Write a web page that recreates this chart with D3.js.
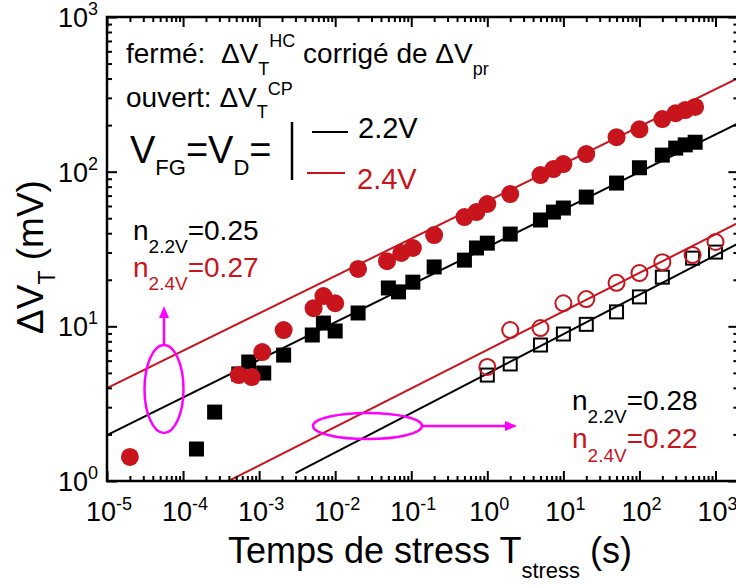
<!DOCTYPE html>
<html><head><meta charset="utf-8">
<script src="https://cdn.jsdelivr.net/npm/d3@7"></script>
<style>
html,body{margin:0;padding:0;background:#fff;}
svg{display:block;font-family:"Liberation Sans",Arial,Helvetica,sans-serif;}
svg text{white-space:pre;}
</style></head>
<body>
<svg id="chart" width="736" height="588"></svg>
<script>
// ---- data ----
const tClosedRed = [2e-5, 5.4e-4, 8e-4, 1.1e-3, 2.1e-3, 5.2e-3, 7e-3, 1e-2, 2e-2, 0.048, 0.074, 0.105, 0.2, 0.5, 0.72, 1, 2, 5, 7.4, 10, 20, 50, 100, 200, 300, 400, 540];
const vClosedRed = [1.43, 4.84, 4.70, 6.82, 9.46, 13.1, 15.7, 14.1, 23.5, 26.4, 29.8, 32.1, 38.9, 50.9, 54.8, 61.8, 71.7, 95.0, 104, 112, 130, 167, 188, 219, 239, 250, 262];
const tClosedBlack = [1.5e-4, 2.6e-4, 5.4e-4, 7.3e-4, 1.15e-3, 2.1e-3, 5e-3, 7e-3, 1e-2, 2e-2, 0.05, 0.068, 0.105, 0.2, 0.5, 0.72, 1, 2, 5, 7.4, 10, 20, 50, 100, 200, 300, 400, 540];
const vClosedBlack = [1.61, 2.79, 4.92, 5.88, 4.99, 6.52, 8.79, 10.5, 9.33, 12.2, 17.7, 16.7, 19.3, 24.2, 26.8, 32.1, 34.5, 39.5, 48.7, 54.8, 58.2, 68.5, 84.4, 106, 128, 142, 149, 155];
const tOpen = [1, 2, 5, 10, 20, 50, 100, 200, 500, 1000];
const vOpenRed = [5.46, 9.46, 9.75, 14.1, 15.0, 19.1, 22.1, 26.0, 28.9, 35.1];
const vOpenBlack = [4.84, 5.71, 7.57, 8.92, 10.3, 12.4, 15.5, 20.8, 27.6, 30.2];
// power-law fits V = A * t^n : [closed 2.2V, closed 2.4V, open 2.2V, open 2.4V]
const fitA = [32.5, 64.3, 4.95, 7.04];
const fitN = [0.243, 0.2415, 0.255, 0.249];
const fitStart = [1e-5, 1e-5, 3e-3, 1e-5];
const fitEnd = 2000;
const xTickExps = [-5, -4, -3, -2, -1, 0, 1, 2, 3];
const yTickExps = [0, 1, 2, 3];

const RED = "#c8141c", BLACK = "#000", MAG = "#ff00ff";
const svg = d3.select("#chart");
const L = 107, R = 738.4, T = 17, B = 481;
const x = d3.scaleLog().domain([1e-5, 2000]).range([L, R]);
const y = d3.scaleLog().domain([1, 1000]).range([B, T]);

svg.append("defs").append("clipPath").attr("id", "clip")
  .append("rect").attr("x", L).attr("y", T).attr("width", R - L).attr("height", B - T);

function rich(sel, px, py, parts, size, color, anchor) {
  const t = sel.append("text").attr("x", px).attr("y", py).attr("font-size", size)
    .attr("fill", color).attr("text-anchor", anchor || "start").attr("xml:space", "preserve");
  let cur = 0;
  parts.forEach(p => {
    const ts = t.append("tspan").text(p.t);
    const off = p.dy || 0;
    ts.attr("dy", off - cur); cur = off;
    if (p.size) ts.attr("font-size", p.size);
  });
  return t;
}

// ---- fit lines ----
const gl = svg.append("g").attr("clip-path", "url(#clip)");
[BLACK, RED, BLACK, RED].forEach((c, i) => {
  const ts = [fitStart[i], fitEnd];
  gl.append("path")
    .attr("d", d3.line().x(d => x(d)).y(d => y(fitA[i] * Math.pow(d, fitN[i])))(ts))
    .attr("stroke", c).attr("stroke-width", 2).attr("fill", "none");
});

// ---- markers ----
const gm = svg.append("g");
const sqB = 15, sqO = 13;
gm.selectAll(".sb").data(tClosedBlack.map((t, i) => [t, vClosedBlack[i]])).join("rect")
  .attr("x", d => x(d[0]) - sqB / 2).attr("y", d => y(d[1]) - sqB / 2)
  .attr("width", sqB).attr("height", sqB).attr("fill", BLACK);
gm.selectAll(".cr").data(tClosedRed.map((t, i) => [t, vClosedRed[i]])).join("circle")
  .attr("cx", d => x(d[0])).attr("cy", d => y(d[1])).attr("r", 9).attr("fill", RED);
gm.selectAll(".ob").data(tOpen.map((t, i) => [t, vOpenBlack[i]])).join("rect")
  .attr("x", d => x(d[0]) - sqO / 2).attr("y", d => y(d[1]) - sqO / 2)
  .attr("width", sqO).attr("height", sqO).attr("fill", "none").attr("stroke", BLACK).attr("stroke-width", 2);
gm.selectAll(".or").data(tOpen.map((t, i) => [t, vOpenRed[i]])).join("circle")
  .attr("cx", d => x(d[0])).attr("cy", d => y(d[1])).attr("r", 8)
  .attr("fill", "none").attr("stroke", RED).attr("stroke-width", 2);

// ---- axes ----
function minorVals(domain) {
  const out = [];
  const lo = Math.floor(Math.log10(domain[0])), hi = Math.ceil(Math.log10(domain[1]));
  for (let e = lo; e < hi; e++) for (let k = 2; k <= 9; k++) {
    const v = k * Math.pow(10, e);
    if (v >= domain[0] && v <= domain[1]) out.push(v);
  }
  return out;
}
const xMajor = xTickExps.map(e => Math.pow(10, e));
const yMajor = yTickExps.map(e => Math.pow(10, e));
const xMinor = minorVals(x.domain()), yMinor = minorVals(y.domain());

function drawAxis(axisFn, scale, tf, major, minor) {
  const g = svg.append("g").attr("transform", tf);
  g.call(axisFn(scale).tickValues(minor).tickSize(-5).tickFormat(""));
  g.append("g").call(axisFn(scale).tickValues(major).tickSize(-10).tickFormat(""));
  g.selectAll(".domain").remove();
  g.selectAll("line").attr("stroke", "#000").attr("stroke-width", 2);
  return g;
}
drawAxis(d3.axisBottom, x, `translate(0,${B})`, xMajor, xMinor);
drawAxis(d3.axisTop, x, `translate(0,${T})`, xMajor, xMinor);
drawAxis(d3.axisLeft, y, `translate(${L},0)`, yMajor, yMinor);
drawAxis(d3.axisRight, y, `translate(${R},0)`, yMajor, yMinor);
svg.append("rect").attr("x", L).attr("y", T).attr("width", R - L).attr("height", B - T)
  .attr("fill", "none").attr("stroke", "#000").attr("stroke-width", 2.5);

// tick labels
const gt = svg.append("g");
yTickExps.forEach(e => {
  rich(gt, 98, y(Math.pow(10, e)) + 10, [{t: "10"}, {t: String(e), dy: -12, size: 18}], 27, "#000", "end");
});
xTickExps.forEach(e => {
  rich(gt, x(Math.pow(10, e)) + 2, B + 40, [{t: "10"}, {t: e < 0 ? "-" + (-e) : String(e), dy: -11, size: 18}], 27, "#000", "middle");
});

// axis titles
rich(svg, 430, 563, [{t: "Temps de stress T"}, {t: "stress", dy: 15, size: 22}, {t: " (s)", dy: 0}], 36, "#000", "middle");
rich(svg.append("g").attr("transform", "translate(43,257) rotate(-90)"), 0, 0,
  [{t: "\u0394V"}, {t: "T", dy: 12, size: 23}, {t: " (mV)", dy: 0}], 37, "#000", "middle");

// ---- annotations ----
const ga = svg.append("g");
rich(ga, 126, 63, [{t: "fermé:  \u0394V"}, {t: "T", dy: 12, size: 18}, {t: "HC", dy: -16, size: 18},
  {t: " corrigé de \u0394V", dy: 0}, {t: "pr", dy: 12, size: 18}], 28, "#000");
rich(ga, 126, 107, [{t: "ouvert: \u0394V"}, {t: "T", dy: 11, size: 18}, {t: "CP", dy: -12, size: 18}], 28, "#000");
rich(ga, 130, 163, [{t: "V"}, {t: "FG", dy: 12, size: 22}, {t: "=V", dy: 0}, {t: "D", dy: 12, size: 22}, {t: "=", dy: 0}], 38, "#000");
ga.append("line").attr("x1", 292).attr("x2", 292).attr("y1", 122).attr("y2", 180).attr("stroke", "#000").attr("stroke-width", 2.5);
ga.append("line").attr("x1", 312).attr("x2", 348).attr("y1", 132).attr("y2", 132).attr("stroke", BLACK).attr("stroke-width", 2);
ga.append("line").attr("x1", 307).attr("x2", 345).attr("y1", 173).attr("y2", 173).attr("stroke", RED).attr("stroke-width", 2);
rich(ga, 358, 138, [{t: "2.2V"}], 29, BLACK);
rich(ga, 357, 189, [{t: "2.4V"}], 29, RED);

rich(ga, 133, 240, [{t: "n"}, {t: "2.2V", dy: 13, size: 19}, {t: "=0.25", dy: 0}], 28, BLACK);
rich(ga, 133, 277, [{t: "n"}, {t: "2.4V", dy: 13, size: 19}, {t: "=0.27", dy: 0}], 28, RED);
rich(ga, 572, 410, [{t: "n"}, {t: "2.2V", dy: 13, size: 19}, {t: "=0.28", dy: 0}], 28, BLACK);
rich(ga, 572, 448, [{t: "n"}, {t: "2.4V", dy: 14, size: 19}, {t: "=0.22", dy: 0}], 28, RED);

// magenta ellipses + arrows
ga.append("ellipse").attr("cx", 164).attr("cy", 389).attr("rx", 19.5).attr("ry", 44)
  .attr("fill", "none").attr("stroke", MAG).attr("stroke-width", 2.5);
ga.append("line").attr("x1", 164).attr("x2", 164).attr("y1", 345).attr("y2", 315).attr("stroke", MAG).attr("stroke-width", 2.5);
ga.append("path").attr("d", "M164,306 L159,318 L169,318 Z").attr("fill", MAG);
ga.append("ellipse").attr("cx", 367.5).attr("cy", 426).attr("rx", 54.5).attr("ry", 13)
  .attr("fill", "none").attr("stroke", MAG).attr("stroke-width", 2.5);
ga.append("line").attr("x1", 422).attr("x2", 508).attr("y1", 426).attr("y2", 426).attr("stroke", MAG).attr("stroke-width", 2.5);
ga.append("path").attr("d", "M517,426 L505,421 L505,431 Z").attr("fill", MAG);
</script>
</body></html>
